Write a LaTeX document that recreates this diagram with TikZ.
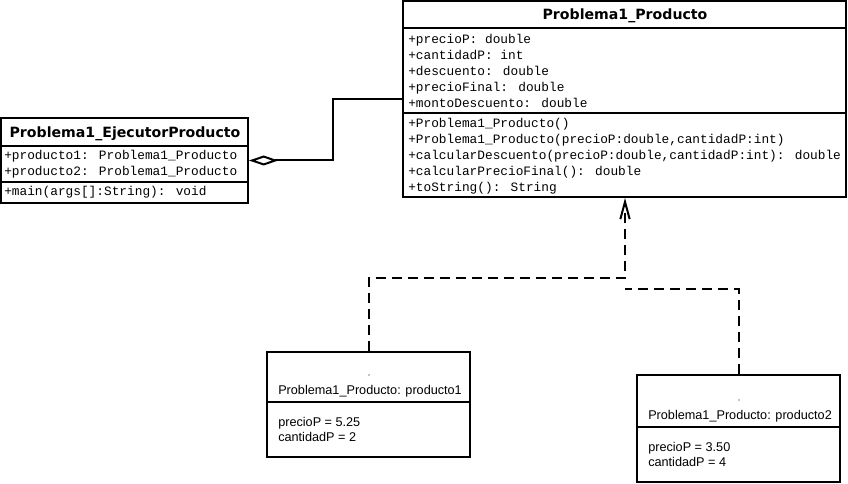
\documentclass[tikz,border=0pt]{standalone}
\usepackage{fontspec}
\usetikzlibrary{arrows.meta}
\newfontfamily\umlmono{Liberation Mono}
\newfontfamily\umlhead{DejaVu Sans}
\newfontfamily\umlsans{Liberation Sans}

\begin{document}
\begin{tikzpicture}[x=0.75pt,y=-0.75pt,
  umlbox/.style={draw,line width=1.5pt,rectangle,inner sep=0pt,fill=white},
  divider/.style={line width=1.5pt},
  classname/.style={font=\umlhead\bfseries\fontsize{10.6pt}{12pt}\selectfont,inner sep=0pt,anchor=base},
  member/.style={font=\umlmono\fontsize{9.6pt}{12pt}\selectfont,inner sep=0pt,anchor=base west},
  objtext/.style={font=\umlsans\fontsize{9.5pt}{11pt}\selectfont,inner sep=0pt,anchor=base west},
  aggregation/.style={line width=1.5pt,{Diamond[open,length=22pt,width=7.5pt,fill=white]}-},
  dependency/.style={line width=1.5pt,dash pattern=on 7.5pt off 4.5pt},
  deparrow/.style={dependency,-{Straight Barb[length=13pt,width=7pt]}}
]
\useasboundingbox (0,0) rectangle (848,484);

% class Problema1_Producto
\node[umlbox,minimum width=332.25pt,minimum height=147pt] (prod) at (624.5,99) {};
\draw[divider] (prod.west |- 0,28) -- (prod.east |- 0,28);
\draw[divider] (prod.west |- 0,113) -- (prod.east |- 0,113);
\node[classname] (prodname) at (625,20) {Problema1\_Producto};
\node[member] (pa1) at (408,44) {+precioP: double};
\node[member] (pa2) at (408,60) {+cantidadP: int};
\node[member] (pa3) at (408,76) {+descuento: double};
\node[member] (pa4) at (408,92) {+precioFinal: double};
\node[member] (pa5) at (408,108) {+montoDescuento: double};
\node[member] (pm1) at (408,128) {+Problema1\_Producto()};
\node[member] (pm2) at (408,144) {+Problema1\_Producto(precioP:double,cantidadP:int)};
\node[member] (pm3) at (408,160) {+calcularDescuento(precioP:double,cantidadP:int): double};
\node[member] (pm4) at (408,176) {+calcularPrecioFinal(): double};
\node[member] (pm5) at (408,192) {+toString(): String};

% class Problema1_EjecutorProducto
\node[umlbox,minimum width=185.25pt,minimum height=63.75pt] (ejec) at (124.5,160.5) {};
\draw[divider] (ejec.west |- 0,146) -- (ejec.east |- 0,146);
\draw[divider] (ejec.west |- 0,182) -- (ejec.east |- 0,182);
\node[classname] (ejecname) at (125,138) {Problema1\_EjecutorProducto};
\node[member] (ea1) at (4,160) {+producto1: Problema1\_Producto};
\node[member] (ea2) at (4,176) {+producto2: Problema1\_Producto};
\node[member] (em1) at (4,196) {+main(args[]:String): void};

% aggregation
\draw[aggregation] (ejec.east) -- (333,160.5) |- (prod.west |- 0,99);

% object producto1
\node[umlbox,minimum width=152.25pt,minimum height=78.75pt] (obj1) at (368.5,404.5) {};
\draw[divider] (obj1.west |- 0,402) -- (obj1.east |- 0,402);
\fill (369,375) circle (0.5pt);
\node[objtext] (o1name) at (278,394) {Problema1\_Producto: producto1};
\node[objtext] (o1v1) at (278,426) {precioP = 5.25};
\node[objtext] (o1v2) at (278,441) {cantidadP = 2};

% object producto2
\node[umlbox,minimum width=152.25pt,minimum height=80.25pt] (obj2) at (738.5,428.5) {};
\draw[divider] (obj2.west |- 0,427) -- (obj2.east |- 0,427);
\fill (739,400) circle (0.5pt);
\node[objtext] (o2name) at (648,419) {Problema1\_Producto: producto2};
\node[objtext] (o2v1) at (648,451) {precioP = 3.50};
\node[objtext] (o2v2) at (648,466) {cantidadP = 4};

% instance-of links
\coordinate (bend1) at (625,278);
\coordinate (join2) at (625,289);
\draw[deparrow] (obj1.north) |- (bend1) -- (prod.south -| bend1);
\draw[dependency] (obj2.north) |- (join2);
\end{tikzpicture}
\end{document}
